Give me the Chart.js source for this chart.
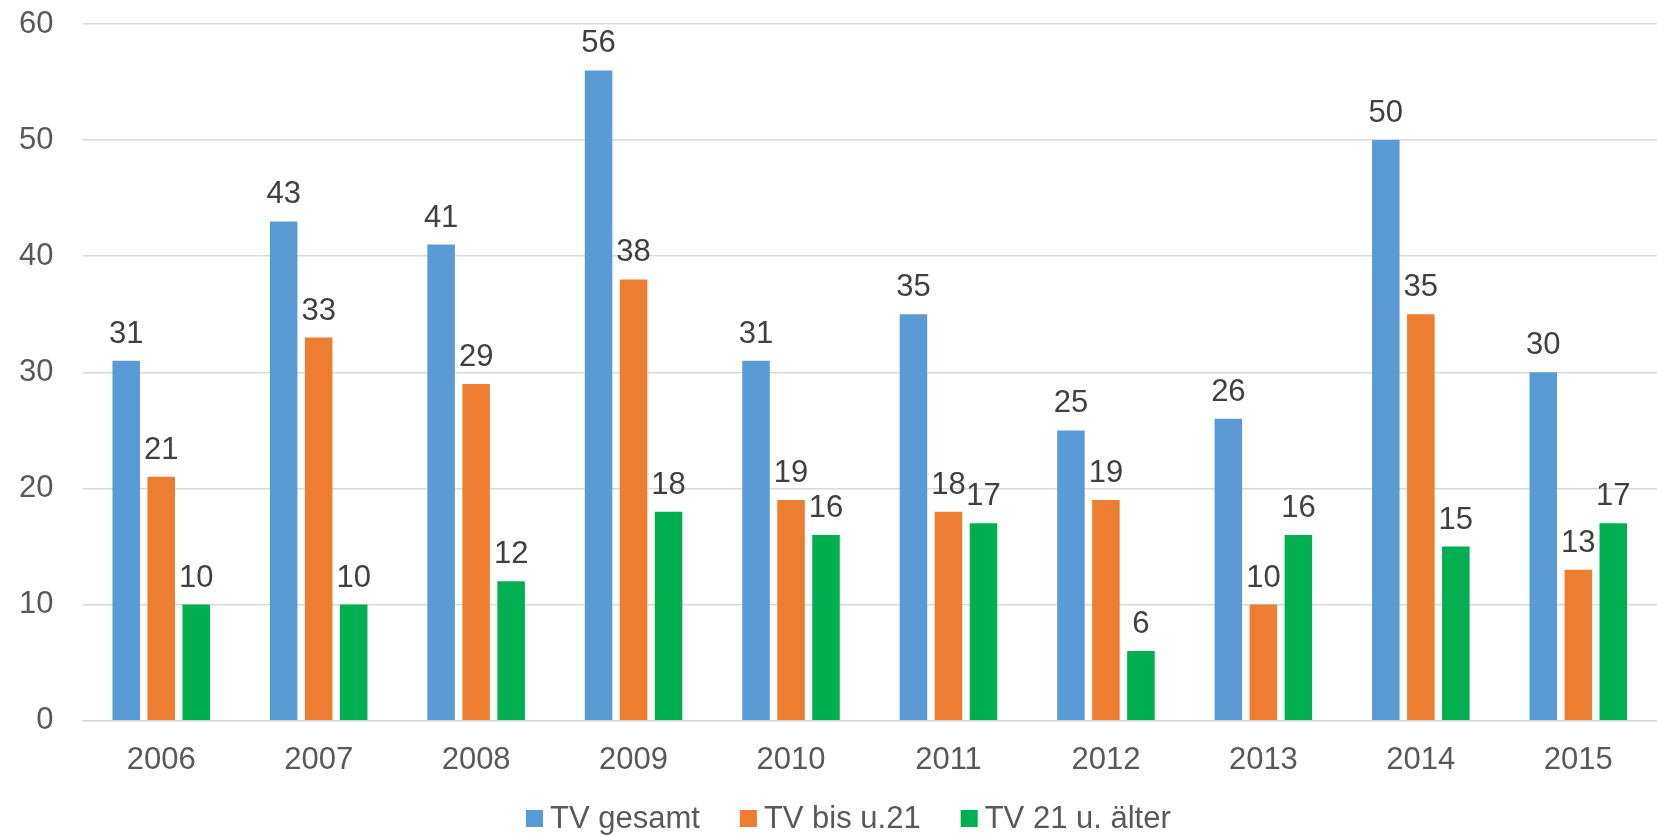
<!DOCTYPE html>
<html>
<head>
<meta charset="utf-8">
<script src="https://cdn.jsdelivr.net/npm/chart.js@4/dist/chart.umd.min.js"></script>
<style>
  html, body { margin: 0; padding: 0; background: #ffffff; }
  #wrap { width: 1657px; height: 837px; position: relative; }
</style>
</head>
<body>
<div id="wrap"><canvas id="c" width="1657" height="837"></canvas></div>
<script>
const years = ['2006', '2007', '2008', '2009', '2010', '2011', '2012', '2013', '2014', '2015'];
const tvGesamt = [31, 43, 41, 56, 31, 35, 25, 26, 50, 30];
const tvBisU21 = [21, 33, 29, 38, 19, 18, 19, 10, 35, 13];
const tv21Aelter = [10, 10, 12, 18, 16, 17, 6, 16, 15, 17];
const seriesNames = ['TV gesamt', 'TV bis u.21', 'TV 21 u. älter'];
const seriesColors = ['#5B9BD5', '#ED7D31', '#00B050'];

const FONT = "'Liberation Sans', Arial, Helvetica, sans-serif";

const valueLabels = {
  id: 'valueLabels',
  afterDatasetsDraw(chart) {
    const ctx = chart.ctx;
    ctx.save();
    ctx.font = '31px ' + FONT;
    ctx.fillStyle = '#404040';
    ctx.textAlign = 'center';
    ctx.textBaseline = 'alphabetic';
    chart.data.datasets.forEach((ds, i) => {
      const meta = chart.getDatasetMeta(i);
      meta.data.forEach((el, j) => {
        ctx.fillText(String(ds.data[j]), el.x, el.y - 18);
      });
    });
    ctx.restore();
  }
};

const bottomLegend = {
  id: 'bottomLegend',
  afterDraw(chart) {
    const ctx = chart.ctx;
    ctx.save();
    ctx.font = '31px ' + FONT;
    const box = 17, gapText = 7, gapItem = 40;
    const widths = chart.data.datasets.map(ds => ctx.measureText(ds.label).width);
    let x = 526;
    const boxTop = 810;
    const baseline = 828;
    ctx.textBaseline = 'alphabetic';
    ctx.textAlign = 'left';
    chart.data.datasets.forEach((ds, i) => {
      ctx.fillStyle = ds.backgroundColor;
      ctx.fillRect(x, boxTop, box, box);
      ctx.fillStyle = '#595959';
      ctx.fillText(ds.label, x + box + gapText, baseline);
      x += box + gapText + widths[i] + gapItem;
    });
    ctx.restore();
  }
};

new Chart(document.getElementById('c'), {
  type: 'bar',
  data: {
    labels: years,
    datasets: [
      { label: seriesNames[0], data: tvGesamt, backgroundColor: seriesColors[0] },
      { label: seriesNames[1], data: tvBisU21, backgroundColor: seriesColors[1] },
      { label: seriesNames[2], data: tv21Aelter, backgroundColor: seriesColors[2] }
    ]
  },
  options: {
    responsive: false,
    animation: false,
    devicePixelRatio: 1,
    layout: { padding: { top: 24, right: 0, bottom: 0, left: 0 } },
    datasets: { bar: { categoryPercentage: 0.667, barPercentage: 0.786 } },
    plugins: {
      legend: { display: false },
      tooltip: { enabled: false }
    },
    scales: {
      x: {
        grid: { display: false, drawTicks: false },
        border: { display: true, color: '#D9D9D9', width: 1.5 },
        ticks: { color: '#595959', font: { family: FONT, size: 31 }, padding: 21, maxRotation: 0 },
        afterFit(scale) { scale.height = 116.3; scale.paddingLeft = 0; scale.paddingRight = 0; }
      },
      y: {
        min: 0, max: 60,
        grid: { color: '#D9D9D9', lineWidth: 1.5, drawTicks: false },
        border: { display: false },
        ticks: { stepSize: 10, color: '#595959', font: { family: FONT, size: 31 }, padding: 29 },
        afterFit(scale) { scale.width = 82.5; scale.paddingTop = 0; scale.paddingBottom = 0; }
      }
    }
  },
  plugins: [valueLabels, bottomLegend]
});
</script>
</body>
</html>
